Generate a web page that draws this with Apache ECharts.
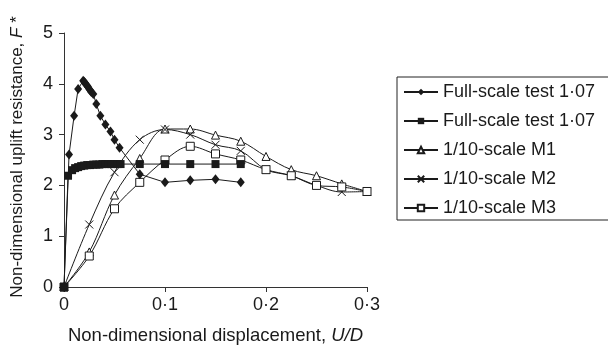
<!DOCTYPE html>
<html>
<head>
<meta charset="utf-8">
<script src="https://cdn.jsdelivr.net/npm/echarts@6/dist/echarts.min.js"></script>
<style>
  html, body { margin: 0; padding: 0; background: #fff; }
  #chart { width: 608px; height: 350px; }
</style>
</head>
<body>
<div id="chart"></div>
<script>
// axis ticks
const xTicks = [0, 0.1, 0.2, 0.3]
const yTicks = [0, 1, 2, 3, 4, 5]

// Full-scale test (diamonds)
const fullDiamondX = [0, 0.005, 0.010, 0.014, 0.019, 0.020, 0.021, 0.022, 0.023, 0.024, 0.025, 0.026, 0.027, 0.029, 0.032, 0.036, 0.041, 0.046, 0.050, 0.055, 0.075, 0.100, 0.125, 0.150, 0.175]
const fullDiamondY = [0, 2.61, 3.37, 3.90, 4.06, 4.04, 4.01, 3.98, 3.96, 3.93, 3.90, 3.87, 3.84, 3.80, 3.60, 3.37, 3.20, 3.06, 2.90, 2.74, 2.22, 2.06, 2.10, 2.12, 2.06]

// Full-scale test (filled squares)
const fullSquareX = [0, 0.004, 0.008, 0.011, 0.014, 0.017, 0.020, 0.023, 0.026, 0.029, 0.032, 0.035, 0.038, 0.041, 0.044, 0.047, 0.050, 0.053, 0.056, 0.075, 0.100, 0.125, 0.150, 0.175]
const fullSquareY = [0, 2.19, 2.30, 2.34, 2.36, 2.38, 2.39, 2.40, 2.40, 2.41, 2.41, 2.41, 2.42, 2.42, 2.42, 2.42, 2.42, 2.42, 2.42, 2.42, 2.42, 2.42, 2.42, 2.42]

// 1/10-scale models
const modelX = [0, 0.025, 0.05, 0.075, 0.1, 0.125, 0.15, 0.175, 0.2, 0.225, 0.25, 0.275, 0.3]
const m1Y = [0, 0.69, 1.81, 2.53, 3.11, 3.11, 2.99, 2.87, 2.57, 2.31, 2.19, 2.03, 1.88]
const m2Y = [0, 1.23, 2.26, 2.90, 3.10, 3.00, 2.80, 2.68, 2.31, 2.19, 2.00, 1.87, 1.88]
const m3Y = [0, 0.61, 1.54, 2.06, 2.50, 2.77, 2.62, 2.50, 2.31, 2.19, 2.00, 1.97, 1.88]

const seriesNames = ['Full-scale test 1·07', 'Full-scale test 1·07 ', '1/10-scale M1', '1/10-scale M2', '1/10-scale M3']

const zip = (xs, ys) => xs.map((x, i) => [x, ys[i]])
const ink = '#1a1a1a'
const crossPath = 'path://M0,0L10,10M10,0L0,10'

const chart = echarts.init(document.getElementById('chart'))

const option = {
  animation: false,
  backgroundColor: '#fff',
  grid: { left: 64, top: 33, width: 303, height: 259 },
  legend: {
    orient: 'vertical',
    left: 397,
    top: 77,
    data: seriesNames,
    itemWidth: 34,
    itemHeight: 8,
    itemGap: 11,
    padding: [6, 40, 3, 6],
    borderColor: '#222',
    borderWidth: 1,
    textStyle: { fontFamily: 'Liberation Sans', fontSize: 18, color: '#1a1a1a', lineHeight: 18 }
  },
  xAxis: {
    type: 'value',
    min: 0,
    max: 0.3,
    interval: 0.1,
    name: 'Non-dimensional displacement, {i|U/D}',
    nameLocation: 'middle',
    nameGap: 39,
    nameTextStyle: {
      fontFamily: 'Liberation Sans', fontSize: 18.5, color: '#1a1a1a',
      rich: { i: { fontFamily: 'Liberation Sans', fontSize: 18.5, fontStyle: 'italic', color: '#1a1a1a' } }
    },
    axisLine: { lineStyle: { color: '#333', width: 1 } },
    axisTick: { show: true, inside: false, length: 5, lineStyle: { color: '#333' } },
    axisLabel: {
      margin: 9,
      fontFamily: 'Liberation Sans', fontSize: 18, color: '#1a1a1a',
      formatter: v => (xTicks.includes(Math.round(v * 10) / 10) ? String(Math.round(v * 10) / 10).replace('.', '·') : '')
    },
    splitLine: { show: false }
  },
  yAxis: {
    type: 'value',
    min: 0,
    max: 5,
    interval: 1,
    name: 'Non-dimensional uplift resistance, {i|F} *',
    nameLocation: 'middle',
    nameGap: 38,
    nameTextStyle: {
      fontFamily: 'Liberation Sans', fontSize: 17, color: '#1a1a1a',
      padding: [0, 0, 0, 6],
      rich: { i: { fontFamily: 'Liberation Sans', fontSize: 17, fontStyle: 'italic', color: '#1a1a1a' } }
    },
    axisLine: { show: true, lineStyle: { color: '#333', width: 1 } },
    axisTick: { show: true, inside: false, length: 5, lineStyle: { color: '#333' } },
    axisLabel: {
      margin: 11,
      fontFamily: 'Liberation Sans', fontSize: 18, color: '#1a1a1a',
      formatter: v => (yTicks.includes(v) ? String(v) : '')
    },
    splitLine: { show: false }
  },
  series: [
    {
      name: seriesNames[0],
      type: 'line',
      data: zip(fullDiamondX, fullDiamondY),
      symbol: 'diamond',
      symbolSize: [8, 10],
      lineStyle: { color: ink, width: 1 },
      itemStyle: { color: ink, borderColor: ink, borderWidth: 0 },
      z: 5
    },
    {
      name: seriesNames[1],
      type: 'line',
      data: zip(fullSquareX, fullSquareY),
      symbol: 'rect',
      symbolSize: 8,
      lineStyle: { color: ink, width: 1 },
      itemStyle: { color: ink, borderColor: ink, borderWidth: 0 },
      z: 5
    },
    {
      name: seriesNames[2],
      type: 'line',
      data: zip(modelX, m1Y),
      smooth: 0.35,
      symbol: 'triangle',
      symbolSize: 8,
      lineStyle: { color: ink, width: 1 },
      itemStyle: { color: '#fff', borderColor: ink, borderWidth: 1 },
      z: 4
    },
    {
      name: seriesNames[3],
      type: 'line',
      data: zip(modelX, m2Y),
      smooth: 0.35,
      symbol: crossPath,
      symbolSize: 8,
      lineStyle: { color: ink, width: 1 },
      itemStyle: { color: 'none', borderColor: ink, borderWidth: 1 },
      z: 4
    },
    {
      name: seriesNames[4],
      type: 'line',
      data: zip(modelX, m3Y),
      smooth: 0.35,
      symbol: 'rect',
      symbolSize: 8,
      lineStyle: { color: ink, width: 1 },
      itemStyle: { color: '#fff', borderColor: ink, borderWidth: 1 },
      z: 4
    }
  ]
}

chart.setOption(option)
</script>
</body>
</html>
